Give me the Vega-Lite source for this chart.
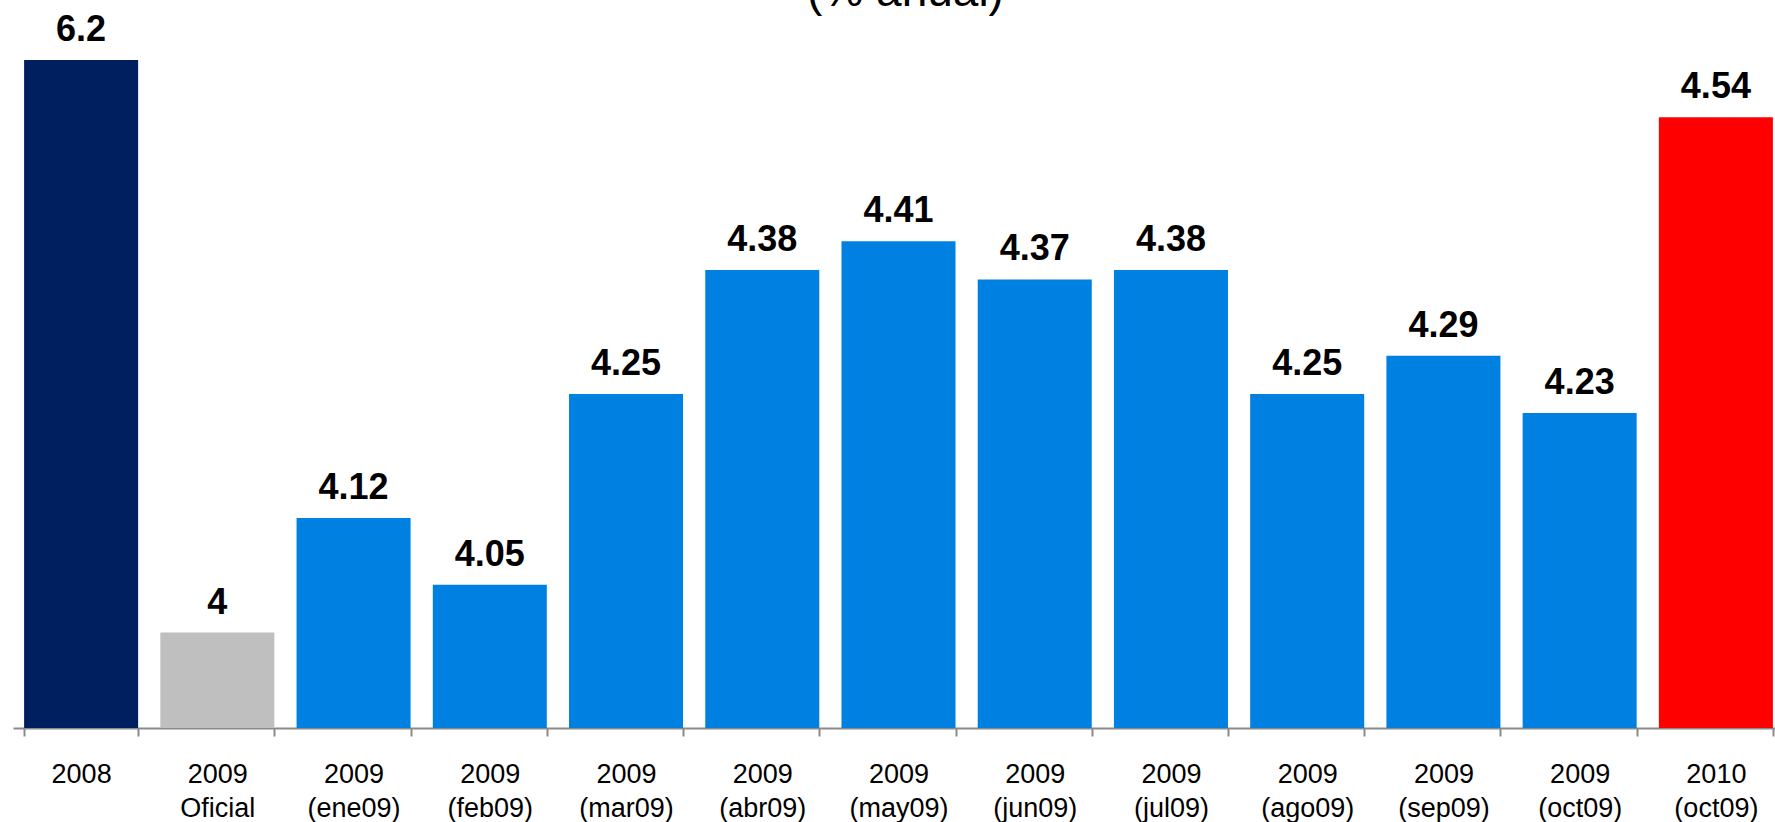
{
  "$schema": "https://vega.github.io/schema/vega-lite/v6.json",
  "autosize": "none",
  "width": 1771,
  "height": 668,
  "padding": {"left": 13, "top": 60, "right": 0, "bottom": 94},
  "background": "white",
  "config": {"view": {"stroke": null}},
  "title": {
    "text": "(% anual)",
    "font": "Liberation Sans",
    "fontSize": 46,
    "fontWeight": "normal",
    "color": "black",
    "anchor": "middle",
    "baseline": "alphabetic",
    "offset": 0,
    "dy": 40,
    "dx": 7
  },
  "data": {
    "values": [
      {"periodo": "2008", "valor": 6.2, "tipo": "real"},
      {"periodo": "2009|Oficial", "valor": 4, "tipo": "oficial"},
      {"periodo": "2009|(ene09)", "valor": 4.12, "tipo": "pronostico"},
      {"periodo": "2009|(feb09)", "valor": 4.05, "tipo": "pronostico"},
      {"periodo": "2009|(mar09)", "valor": 4.25, "tipo": "pronostico"},
      {"periodo": "2009|(abr09)", "valor": 4.38, "tipo": "pronostico"},
      {"periodo": "2009|(may09)", "valor": 4.41, "tipo": "pronostico"},
      {"periodo": "2009|(jun09)", "valor": 4.37, "tipo": "pronostico"},
      {"periodo": "2009|(jul09)", "valor": 4.38, "tipo": "pronostico"},
      {"periodo": "2009|(ago09)", "valor": 4.25, "tipo": "pronostico"},
      {"periodo": "2009|(sep09)", "valor": 4.29, "tipo": "pronostico"},
      {"periodo": "2009|(oct09)", "valor": 4.23, "tipo": "pronostico"},
      {"periodo": "2010|(oct09)", "valor": 4.54, "tipo": "2010"}
    ]
  },
  "encoding": {
    "x": {
      "field": "periodo",
      "type": "nominal",
      "sort": null,
      "scale": {"paddingInner": 0.163, "paddingOuter": 0.0815},
      "axis": {
        "title": null,
        "labelExpr": "split(datum.label, '|')",
        "labelAngle": 0,
        "labelFont": "Liberation Sans",
        "labelFontSize": 27,
        "labelColor": "black",
        "labelPadding": 25,
        "labelLineHeight": 34,
        "labelOverlap": false,
        "labelBound": false,
        "labelFlush": false,
        "domainColor": "#8a8a8a",
        "domainWidth": 2,
        "tickColor": "#8a8a8a",
        "tickWidth": 2,
        "tickSize": 8,
        "tickBand": "extent"
      }
    },
    "y": {
      "field": "valor",
      "type": "quantitative",
      "scale": {"domain": [3.9, 4.6], "clamp": true, "zero": false, "nice": false},
      "axis": null
    }
  },
  "layer": [
    {
      "mark": {"type": "bar"},
      "encoding": {
        "y2": {"datum": 3.9},
        "color": {
          "field": "tipo",
          "type": "nominal",
          "scale": {
            "domain": ["real", "oficial", "pronostico", "2010"],
            "range": ["#001F5F", "#BFBFBF", "#0080E1", "#FF0000"]
          },
          "legend": null
        }
      }
    },
    {
      "mark": {
        "type": "text",
        "baseline": "alphabetic",
        "align": "center",
        "dy": -19,
        "font": "Liberation Sans",
        "fontSize": 36,
        "fontWeight": "bold",
        "color": "black"
      },
      "encoding": {
        "text": {"field": "valor", "type": "nominal"}
      }
    }
  ]
}
